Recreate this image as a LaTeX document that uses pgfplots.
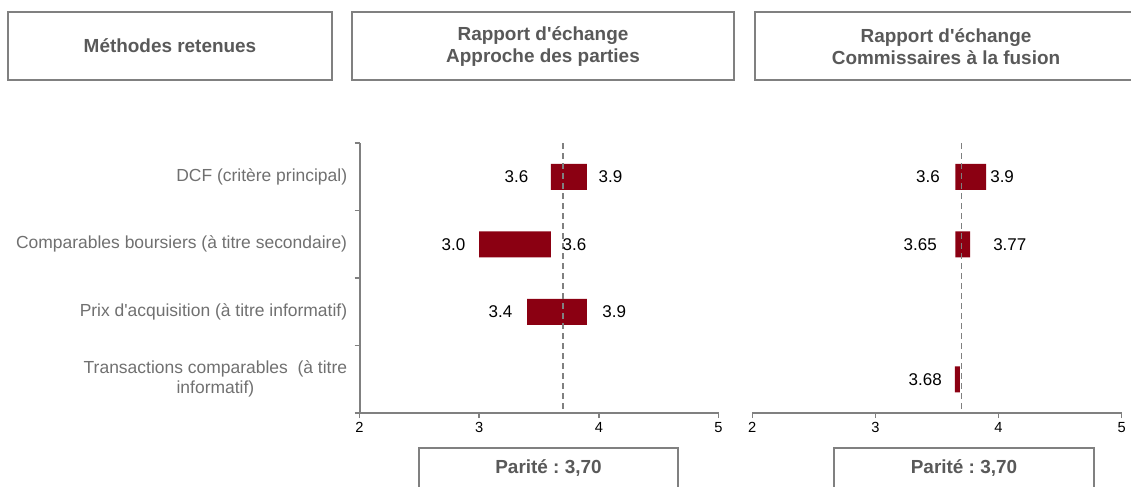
\documentclass[border=0pt]{standalone}
\usepackage{pgfplots}
\pgfplotsset{compat=1.18}
\usepackage{pgfplotstable}
\usepackage{fontspec}
\setmainfont{Liberation Sans}[Ligatures=TeXOff]
\frenchspacing
\definecolor{barred}{RGB}{139,0,18}
\definecolor{axgray}{RGB}{128,128,128}
\definecolor{catgray}{RGB}{112,112,112}
\definecolor{titlegray}{RGB}{89,89,89}

% bars: start and end of each range (category 0 = top)
\pgfplotstableread{
cat start end
0 3.6 3.9
1 3.0 3.6
2 3.4 3.9
}\leftbars
\pgfplotstableread{
cat start end
0 3.65 3.9
1 3.65 3.77
3 3.645 3.685
}\rightbars
% value labels: position (data x) and text
\pgfplotstableread{
cat pos lab
0 3.412 3.6
1 2.886 3.0
2 3.279 3.4
}\leftlabL
\pgfplotstableread{
cat pos lab
0 3.997 3.9
1 3.696 3.6
2 4.028 3.9
}\leftlabR
\pgfplotstableread{
cat pos lab
0 3.525 3.6
1 3.50 3.65
3 3.541 3.68
}\rightlabL
\pgfplotstableread{
cat pos lab
0 3.931 3.9
1 3.955 3.77
}\rightlabR
\pgfplotstableread{
x y
3.7 -0.5
3.7 3.5
}\parite

\pgfplotsset{
  panel/.style={scale only axis, height=202.5pt,
    xmin=2, xmax=5, ymin=-0.5, ymax=3.5, y dir=reverse,
    /pgf/number format/assume math mode=true},
  barpanel/.style={panel, xbar stacked, bar width=19.5pt,
    axis x line*=bottom,
    axis line style={axgray, line width=1.5pt, -},
    xtick={2,3,4,5},
    tick align=outside, major tick length=3.75pt,
    tick style={axgray, line width=1.1pt},
    xticklabel style={font=\fontsize{11}{13}\selectfont, text=black}},
  labpanel/.style={panel, hide axis, clip=false},
  lablab/.style={draw=none, mark=none, nodes near coords,
    point meta=explicit symbolic,
    nodes near coords style={anchor=#1, inner sep=0pt, text=black,
      font=\fontsize{12.75}{15}\selectfont}},
  dashline/.style={axgray, line width=1.1pt, dash pattern=on 4.5pt off 3pt},
}

\begin{document}
\begin{tikzpicture}[x=0.75pt, y=-0.75pt]
\useasboundingbox (0,0) rectangle (1131,486);
\clip (0,0) rectangle (1131,486);

% title boxes
\draw[axgray, line width=1.2pt, fill=white] (8,12) rectangle (332,80);
\draw[axgray, line width=1.2pt, fill=white] (352,12) rectangle (734,80);
\draw[axgray, line width=1.2pt, fill=white] (755,12) rectangle (1136,80);
\node[font=\bfseries\fontsize{14.2}{17}\selectfont, text=titlegray] at (170,46) {Méthodes retenues};
\node[font=\bfseries\fontsize{14.2}{17}\selectfont, text=titlegray, align=center] at (543,46.5) {Rapport d'échange\\Approche des parties};
\node[font=\bfseries\fontsize{14.2}{17}\selectfont, text=titlegray, align=center] at (946,46.5) {Rapport d'échange\\Commissaires à la fusion};

% left panel
\begin{axis}[barpanel, at={(269.625pt,-309.75pt)}, anchor=south west, width=269.25pt,
  axis y line*=left,
  ytick={-0.5,0.5,1.5,2.5,3.5},
  yticklabels={DCF (critère principal), Comparables boursiers (à titre secondaire), Prix d'acquisition (à titre informatif), {Transactions comparables\ \ (à titre\\informatif)}, {}},
  yticklabel style={align=center, text=catgray, font=\fontsize{13.1}{15}\selectfont, yshift=-25.3pt, xshift=-2pt},
]
\addplot[draw=none, fill=none] table[x=start, y=cat] {\leftbars};
\addplot[fill=barred, draw=none] table[x expr=\thisrow{end}-\thisrow{start}, y=cat] {\leftbars};
\end{axis}
\begin{axis}[labpanel, at={(269.625pt,-309.75pt)}, anchor=south west, width=269.25pt]
\addplot[dashline] table[x=x, y=y] {\parite};
\addplot[lablab=east] table[x=pos, y=cat, meta=lab] {\leftlabL};
\addplot[lablab=west] table[x=pos, y=cat, meta=lab] {\leftlabR};
\end{axis}

% right panel
\begin{axis}[barpanel, at={(564.225pt,-309.75pt)}, anchor=south west, width=277pt,
  axis y line=none, ytick=\empty]
\addplot[draw=none, fill=none] table[x=start, y=cat] {\rightbars};
\addplot[fill=barred, draw=none] table[x expr=\thisrow{end}-\thisrow{start}, y=cat] {\rightbars};
\end{axis}
\begin{axis}[labpanel, at={(564.225pt,-309.75pt)}, anchor=south west, width=277pt]
\addplot[dashline] table[x=x, y=y] {\parite};
\addplot[lablab=east] table[x=pos, y=cat, meta=lab] {\rightlabL};
\addplot[lablab=west] table[x=pos, y=cat, meta=lab] {\rightlabR};
\end{axis}

% parity boxes
\draw[axgray, line width=1.2pt, fill=white] (419,448) rectangle (678,500);
\draw[axgray, line width=1.2pt, fill=white] (834,448) rectangle (1094,500);
\node[font=\bfseries\fontsize{14.2}{17}\selectfont, text=titlegray] at (548.5,468) {Parité : 3,70};
\node[font=\bfseries\fontsize{14.2}{17}\selectfont, text=titlegray] at (964,468) {Parité : 3,70};
\end{tikzpicture}
\end{document}
